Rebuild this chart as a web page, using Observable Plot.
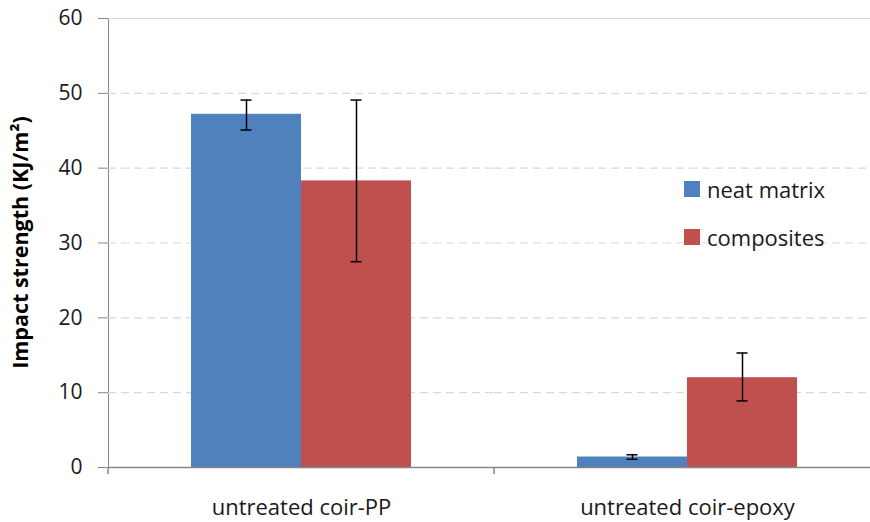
<!DOCTYPE html>
<html>
<head>
<meta charset="utf-8">
<script src="https://cdn.jsdelivr.net/npm/d3@7"></script>
<script src="https://cdn.jsdelivr.net/npm/@observablehq/plot@0.6"></script>
<style>
  html, body { margin: 0; padding: 0; background: #fff; }
  #wrap { position: relative; width: 870px; height: 522px; overflow: hidden; font-family: "Open Sans", sans-serif; }
  .legend { position: absolute; left: 684px; font-size: 22px; color: #1a1a1a; }
  .legend .row { position: absolute; left: 0; display: flex; align-items: center; white-space: nowrap; }
  .legend .sw { width: 16px; height: 16px; margin-right: 7px; }
</style>
</head>
<body>
<div id="wrap"></div>
<script>
const categories = ["untreated coir-PP", "untreated coir-epoxy"];
const series = ["neat matrix", "composites"];
const neatMatrix = [47.2, 1.4];
const composites = [38.3, 12.0];
const neatLow = [45.1, 1.1];
const neatHigh = [49.1, 1.7];
const compLow = [27.5, 8.9];
const compHigh = [49.1, 15.3];
const yTicks = [0, 10, 20, 30, 40, 50, 60];
const colors = ["#4F81BD", "#C0504D"];

const rows = [];
categories.forEach((c, i) => {
  rows.push({category: c, series: series[0], value: neatMatrix[i], low: neatLow[i], high: neatHigh[i]});
  rows.push({category: c, series: series[1], value: composites[i], low: compLow[i], high: compHigh[i]});
});

const chart = Plot.plot({
  width: 870,
  height: 522,
  marginTop: 18,
  marginBottom: 55,
  marginLeft: 107,
  marginRight: -10,
  style: {fontFamily: "Open Sans", fontSize: "20px", color: "#868686", background: "transparent", overflow: "visible"},
  facet: {data: rows, x: "category"},
  fx: {domain: categories, padding: 0, label: null, axis: "bottom", tickSize: 0, tickPadding: 32},
  x: {domain: series, paddingInner: 0, paddingOuter: 0.743, axis: null},
  y: {domain: [0, 60], ticks: yTicks, tickSize: 10, tickPadding: 16, label: null, line: true},
  color: {domain: series, range: colors},
  marks: [
    Plot.ruleY(yTicks.filter(d => d > 0 && d < 60), {stroke: "#d9d9d9", strokeWidth: 1.2, strokeDasharray: "8,5"}),
    Plot.ruleY([60], {stroke: "#d9d9d9", strokeWidth: 1.2}),
    Plot.barY(rows, {x: "series", y: "value", fill: "series"}),
    Plot.ruleY([0], {stroke: "#868686", strokeWidth: 1.5}),
    Plot.ruleX(rows, {x: "series", y1: "low", y2: "high", stroke: "#000", strokeWidth: 1.5}),
    Plot.tickY(rows, {x: "series", y: "low", stroke: "#000", strokeWidth: 1.5, insetLeft: 49.5, insetRight: 49.5}),
    Plot.tickY(rows, {x: "series", y: "high", stroke: "#000", strokeWidth: 1.5, insetLeft: 49.5, insetRight: 49.5})
  ]
});

const svg = d3.select(chart);
svg.selectAll("text").attr("fill", "#1a1a1a").attr("font-family", "Open Sans");
// tick label sizes: category labels larger than value labels
svg.selectAll("text").each(function () {
  const t = this.textContent;
  if (categories.includes(t)) d3.select(this).attr("font-size", "22px");
  else d3.select(this).attr("font-size", "21px");
});

// boundary ticks between category bands on the x axis, from the fx scale
const fx = chart.scale("fx");
const ys = chart.scale("y");
const y0 = ys.apply(0);
const bw = fx.bandwidth;
const starts = categories.map(c => fx.apply(c));
const edges = starts.concat([starts[starts.length - 1] + bw]);
svg.append("g").selectAll("line").data(edges).join("line")
  .attr("x1", d => d).attr("x2", d => d)
  .attr("y1", y0).attr("y2", y0 + 7)
  .attr("stroke", "#868686").attr("stroke-width", 1.5);

// y axis title
svg.append("text")
  .attr("transform", `translate(22,${(ys.apply(0) + ys.apply(60)) / 2}) rotate(-90)`)
  .attr("text-anchor", "middle")
  .attr("dominant-baseline", "middle")
  .attr("font-family", "Open Sans")
  .attr("font-weight", "bold")
  .attr("font-size", "21.5px")
  .attr("fill", "#000")
  .text("Impact strength (KJ/m²)");

const wrap = document.getElementById("wrap");
wrap.appendChild(chart);

// legend
const legend = document.createElement("div");
legend.className = "legend";
legend.style.top = "0px";
const legendTops = [181, 229];
series.forEach((s, i) => {
  const row = document.createElement("div");
  row.className = "row";
  row.style.top = (legendTops[i] - 7) + "px";
  row.style.height = "30px";
  const sw = document.createElement("div");
  sw.className = "sw";
  sw.style.background = colors[i];
  const t = document.createElement("span");
  t.textContent = s;
  row.appendChild(sw);
  row.appendChild(t);
  legend.appendChild(row);
});
wrap.appendChild(legend);
</script>
</body>
</html>
